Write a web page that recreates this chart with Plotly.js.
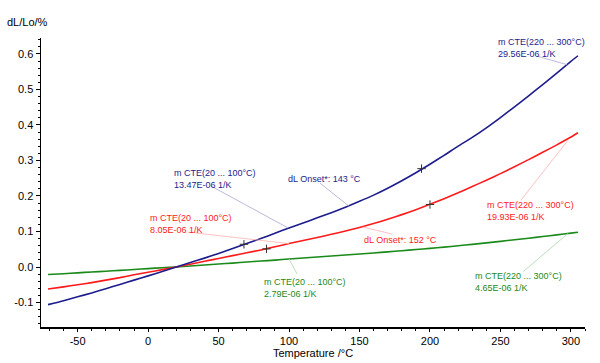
<!DOCTYPE html>
<html><head><meta charset="utf-8">
<script src="https://cdn.plot.ly/plotly-3.0.1.min.js"></script>
<style>html,body{margin:0;padding:0;background:#fff}#chart{width:600px;height:363px}</style>
</head><body><div id="chart"></div>
<script>
// Temperature grid (°C)
const temps = [-71,-60,-50,-40,-30,-20,-10,0,10,20,30,40,50,60,70,80,90,100,110,120,130,140,150,160,170,180,190,200,210,220,230,240,250,260,270,280,290,300,305];
// dL/Lo (%) per sample
const blueVals  = [-0.106,-0.095,-0.084,-0.073,-0.061,-0.049,-0.037,-0.025,-0.0125,0,0.0125,0.025,0.038,0.052,0.066,0.080,0.095,0.110,0.124,0.1385,0.153,0.1685,0.185,0.2025,0.222,0.243,0.2655,0.2895,0.3145,0.3405,0.365,0.392,0.421,0.451,0.482,0.514,0.546,0.579,0.595];
const redVals   = [-0.062,-0.056,-0.050,-0.044,-0.037,-0.030,-0.022,-0.015,-0.0075,0,0.008,0.016,0.024,0.032,0.040,0.048,0.057,0.066,0.0745,0.083,0.092,0.1015,0.1115,0.1225,0.1345,0.1475,0.1615,0.1765,0.1925,0.209,0.2265,0.2445,0.263,0.2825,0.3025,0.323,0.344,0.366,0.378];
const greenVals = [-0.021,-0.019,-0.0165,-0.014,-0.012,-0.0095,-0.007,-0.0045,-0.002,0,0.0027,0.0055,0.0083,0.011,0.0139,0.0167,0.0195,0.0225,0.0252,0.028,0.0308,0.0336,0.0365,0.0395,0.0426,0.0458,0.0491,0.0525,0.056,0.0598,0.0638,0.068,0.0723,0.0767,0.0812,0.0858,0.0905,0.0953,0.0978];
// marked evaluation points (+)
const blueMarkT = [68,194];   const blueMarkV = [0.064,0.277];
const redMarkT  = [84,200];   const redMarkV  = [0.051,0.176];
// tick labels
const xTickVals = [-50,0,50,100,150,200,250,300];
const xTickText = ['-50','0','50','100','150','200','250','300'];
const yTickVals = [-0.1,0,0.1,0.2,0.3,0.4,0.5,0.6];
const yTickText = ['-0.1','0.0','0.1','0.2','0.3','0.4','0.5','0.6'];
// annotation texts
const blueHiText  = 'm CTE(220 ... 300°C)<br>29.56E-06 1/K';
const blueLoText  = 'm CTE(20 ... 100°C)<br>13.47E-06 1/K';
const blueOnText  = 'dL Onset*: 143 °C';
const redLoText   = 'm CTE(20 ... 100°C)<br>8.05E-06 1/K';
const redOnText   = 'dL Onset*: 152 °C';
const redHiText   = 'm CTE(220 ... 300°C)<br>19.93E-06 1/K';
const greenLoText = 'm CTE(20 ... 100°C)<br>2.79E-06 1/K';
const greenHiText = 'm CTE(220 ... 300°C)<br>4.65E-06 1/K';

const BLUE = '#1c1c8c', RED = '#ff1a1a', GREEN = '#1a8a1a';
const FONT = '"Liberation Sans", Arial, sans-serif';

const traces = [
  {x: temps, y: greenVals, mode: 'lines', line: {color: GREEN, width: 1.6, shape: 'spline', smoothing: 0.6}, hoverinfo: 'none'},
  {x: temps, y: redVals, mode: 'lines', line: {color: RED, width: 1.6, shape: 'spline', smoothing: 0.6}, hoverinfo: 'none'},
  {x: temps, y: blueVals, mode: 'lines', line: {color: BLUE, width: 1.6, shape: 'spline', smoothing: 0.6}, hoverinfo: 'none'},
  {x: blueMarkT, y: blueMarkV, mode: 'markers', marker: {symbol: 'cross-thin', size: 6, line: {color: '#333', width: 1}}, hoverinfo: 'none'},
  {x: redMarkT, y: redMarkV, mode: 'markers', marker: {symbol: 'cross-thin', size: 6, line: {color: '#333', width: 1}}, hoverinfo: 'none'}
];

function ann(x, y, text, color, yanchor) {
  return {x: x, y: y, xref: 'x', yref: 'y', text: text, showarrow: false, xanchor: 'left', yanchor: yanchor || 'top',
          align: 'left', font: {family: FONT, size: 9, color: color}, borderpad: 0};
}
function lead(x0, y0, x1, y1, color) {
  return {type: 'line', xref: 'x', yref: 'y', x0: x0, y0: y0, x1: x1, y1: y1, line: {color: color, width: 0.8}};
}

const layout = {
  width: 600, height: 363,
  margin: {l: 41, r: 15, t: 38, b: 36},
  paper_bgcolor: '#fff', plot_bgcolor: '#fff',
  showlegend: false,
  font: {family: FONT, size: 11, color: '#000'},
  xaxis: {
    range: [-76, 310], showgrid: false, zeroline: false,
    showline: true, linecolor: '#000', linewidth: 1.5, mirror: false,
    ticks: 'outside', ticklen: 3, tickwidth: 1, tickcolor: '#000',
    tickvals: xTickVals, ticktext: xTickText,
    minor: {dtick: 10, ticks: 'outside', ticklen: 2, tickcolor: '#000', showgrid: false},
    tickfont: {family: FONT, size: 11},
    title: {text: 'Temperature /°C', font: {family: FONT, size: 11}, standoff: 0},
    automargin: false
  },
  yaxis: {
    range: [-0.169, 0.645], showgrid: false, zeroline: false,
    showline: true, linecolor: '#000', linewidth: 1.5,
    ticks: 'outside', ticklen: 4, tickwidth: 1, tickcolor: '#000',
    tickvals: yTickVals, ticktext: yTickText,
    minor: {dtick: 0.02, ticks: 'outside', ticklen: 2, tickcolor: '#000', showgrid: false},
    tickfont: {family: FONT, size: 11},
    automargin: false
  },
  annotations: [
    {x: -0.066, y: 1.055, xref: 'paper', yref: 'paper', text: 'dL/Lo/%', showarrow: false,
     xanchor: 'left', yanchor: 'middle', font: {family: FONT, size: 11, color: '#000'}},
    {x: 0.838, y: 1.008, xref: 'paper', yref: 'paper', text: blueHiText, showarrow: false,
     xanchor: 'left', yanchor: 'top', align: 'left', font: {family: FONT, size: 9, color: BLUE}, borderpad: 0},
    ann(17.7, 0.281, blueLoText, BLUE),
    ann(98.6, 0.248, blueOnText, BLUE, 'middle'),
    ann(0.7, 0.155, redLoText, RED),
    ann(152.5, 0.076, redOnText, RED, 'middle'),
    ann(239.7, 0.191, redHiText, RED),
    ann(81.6, -0.025, greenLoText, GREEN),
    ann(231.2, -0.008, greenHiText, GREEN)
  ],
  shapes: [
    lead(275.9, 0.594, 297.2, 0.570, '#a8a8d0'),
    lead(44.7, 0.228, 99.3, 0.110, '#a8a8d0'),
    lead(122.0, 0.236, 143.3, 0.169, '#a8a8d0'),
    lead(27.7, 0.0985, 100.0, 0.066, '#ffb0b0'),
    lead(152.5, 0.1125, 173.0, 0.093, '#ffb0b0'),
    lead(264.5, 0.188, 297.9, 0.357, '#ffb0b0'),
    lead(100.0, 0.0225, 105.7, -0.0197, '#a8d8a8'),
    lead(266.2, -0.013, 298.0, 0.0948, '#a8d8a8')
  ]
};

Plotly.newPlot('chart', traces, layout, {staticPlot: true, displayModeBar: false});
</script>
</body></html>
